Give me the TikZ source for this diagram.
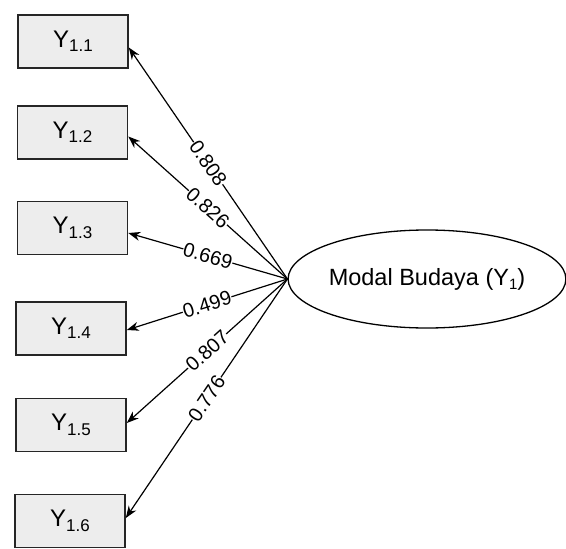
\documentclass[tikz,border=0pt]{standalone}
\usepackage{fontspec}
\setmainfont{Liberation Sans}
\usetikzlibrary{arrows.meta,shapes.geometric}
\newcommand{\mysub}[1]{\raisebox{-0.35ex}{\fontsize{17}{17}\selectfont #1}}
\newcommand{\mysubs}[1]{\raisebox{-0.35ex}{\fontsize{15}{15}\selectfont #1}}
\begin{document}
\begin{tikzpicture}[x=1pt,y=-1pt,
  indbox/.style={draw=black!85,line width=1.6pt,fill=black!7,minimum width=110pt,minimum height=53pt,inner sep=0pt,font=\fontsize{24}{24}\selectfont},
  latent/.style={draw=black,line width=1.3pt,ellipse,minimum width=274pt,minimum height=98pt,inner sep=0pt,font=\fontsize{23.5}{23.5}\selectfont},
  load/.style={draw=black,line width=1.2pt,-{Stealth[length=12pt,width=9pt]}},
  lab/.style={midway,sloped,fill=white,inner sep=0.4pt,font=\fontsize{20}{20}\selectfont}]
\useasboundingbox (0,0) rectangle (566,549);
\node[latent] (e) at (427,279) {Modal Budaya (Y\mysubs{1})};
\node[indbox] (b1) at (73,41.5) {Y\mysub{1.1}};
\node[indbox] (b2) at (72.5,132.5) {Y\mysub{1.2}};
\node[indbox] (b3) at (72.5,228) {Y\mysub{1.3}};
\node[indbox] (b4) at (71,328.5) {Y\mysub{1.4}};
\node[indbox] (b5) at (71,425) {Y\mysub{1.5}};
\node[indbox] (b6) at (70,521) {Y\mysub{1.6}};
\draw[load] (e.west) -- ([yshift=-6pt]b1.east) node[lab] {0.808};
\draw[load] (e.west) -- ([yshift=-4pt]b2.east) node[lab] {0.826};
\draw[load] (e.west) -- ([yshift=-5pt]b3.east) node[lab] {0.669};
\draw[load] (e.west) -- ([yshift=-1.5pt]b4.east) node[lab] {0.499};
\draw[load] (e.west) -- ([yshift=2pt]b5.east) node[lab] {0.807};
\draw[load] (e.west) -- ([yshift=3pt]b6.east) node[lab] {0.776};
\end{tikzpicture}
\end{document}
